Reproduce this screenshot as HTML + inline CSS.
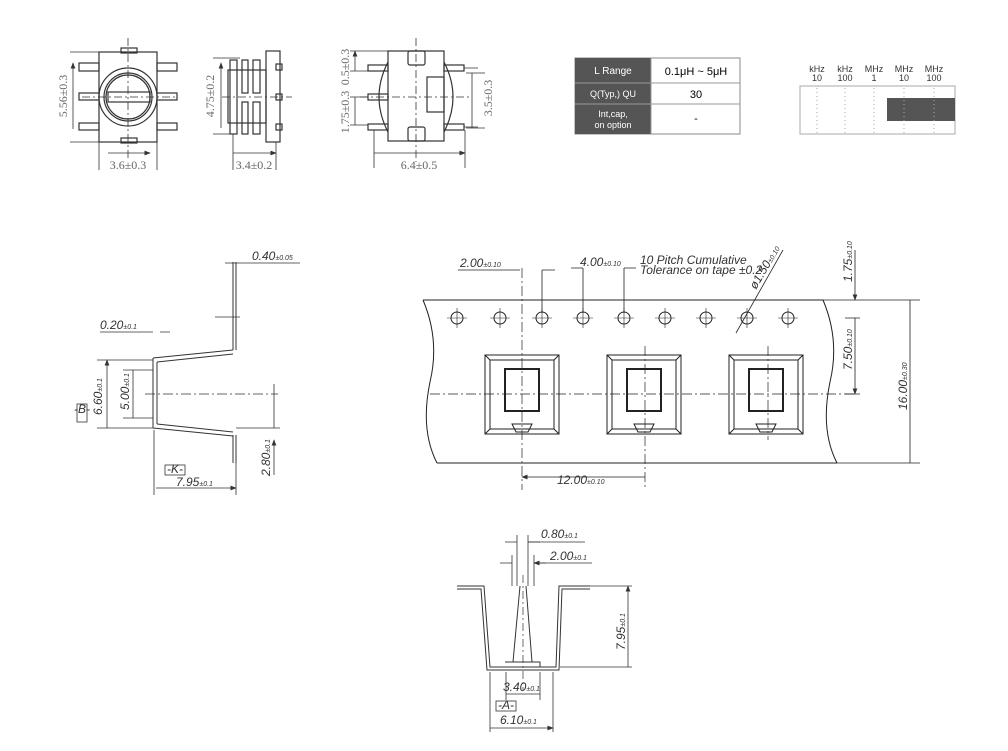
<!DOCTYPE html>
<html><head><meta charset="utf-8"><style>
body{margin:0;background:#fff;width:1008px;height:751px;overflow:hidden}
svg{display:block}
.t{font-family:"Liberation Serif",serif;fill:#666;font-size:12px}
.d{font-family:"Liberation Sans",sans-serif;font-style:italic;fill:#333;font-size:12px}
.s{font-size:7px}
</style></head><body>
<svg width="1008" height="751" viewBox="0 0 1008 751" xmlns="http://www.w3.org/2000/svg">
<defs><marker id="a" markerWidth="8" markerHeight="6" refX="7" refY="3" orient="auto-start-reverse"><path d="M0,0 L8,3 L0,6z" fill="#333"/></marker></defs>
<g stroke="#333" stroke-width="1.2" fill="none">
<rect x="99" y="52" width="58" height="90"/>
<circle cx="128" cy="97" r="29" fill="#fff"/>
<circle cx="128" cy="97" r="24"/><circle cx="128" cy="97" r="22"/>
<rect x="108" y="92" width="42" height="10"/>
<rect x="121" y="48" width="16" height="5"/><rect x="121" y="138" width="16" height="5"/>
<rect x="79" y="63" width="20" height="8"/><rect x="79" y="93" width="20" height="7"/><rect x="79" y="123" width="20" height="7"/>
<rect x="157" y="63" width="20" height="8"/><rect x="157" y="93" width="20" height="7"/><rect x="157" y="123" width="20" height="7"/>
<path d="M70 52H99M70 142H99M99 142V170M157 142V170" stroke-width="0.8"/>
<path d="M128 38V158M82 97H175" stroke-dasharray="8,3,2,3" stroke-width="0.8"/>
<path d="M73 63V129M108 153H150" marker-start="url(#a)" marker-end="url(#a)" stroke-width="0.8"/>
<rect x="230" y="60" width="7" height="74"/><rect x="242" y="60" width="6" height="33"/><rect x="253" y="60" width="7" height="33"/>
<rect x="242" y="102" width="6" height="32"/><rect x="253" y="102" width="7" height="32"/>
<rect x="228" y="70" width="38" height="53"/>
<rect x="266" y="51" width="14" height="91"/>
<rect x="276" y="64" width="6" height="6"/><rect x="276" y="94" width="6" height="6"/><rect x="276" y="124" width="6" height="6"/>
<path d="M213 58H240M213 134H230M233 134V170M276 142V170" stroke-width="0.8"/>
<path d="M222 97H292" stroke-dasharray="8,3,2,3" stroke-width="0.8"/>
<path d="M221 63V128M233 153H276" marker-start="url(#a)" marker-end="url(#a)" stroke-width="0.8"/>
<path d="M388 62 Q370 97 388 132M444 62 Q462 97 444 132"/>
<rect x="388" y="51" width="56" height="90" fill="#fff"/>
<rect x="408" y="51" width="17" height="14" rx="2"/><rect x="408" y="127" width="17" height="14" rx="2"/>
<rect x="427" y="77" width="17" height="35"/>
<rect x="368" y="65" width="20" height="6"/><rect x="368" y="94" width="20" height="6"/><rect x="368" y="124" width="20" height="6"/>
<rect x="444" y="65" width="20" height="6"/><rect x="444" y="124" width="20" height="6"/>
<path d="M464 68H478M464 127H478M350 51H388M350 71H368M350 97H368M350 125H368M466 73H485M466 128H485M374 130V168M465 130V168" stroke-width="0.8"/>
<path d="M416 38V162M360 97H470" stroke-dasharray="8,3,2,3" stroke-width="0.8"/>
<path d="M355 51V71M355 97V125M472 73V128M374 153H465" marker-start="url(#a)" marker-end="url(#a)" stroke-width="0.8"/>
</g>
<text class="t" transform="translate(67,96) rotate(-90)" text-anchor="middle">5.56±0.3</text>
<text class="t" x="128" y="169" text-anchor="middle">3.6±0.3</text>
<text class="t" transform="translate(214,96) rotate(-90)" text-anchor="middle">4.75±0.2</text>
<text class="t" x="254" y="169" text-anchor="middle">3.4±0.2</text>
<text class="t" transform="translate(349,67) rotate(-90)" text-anchor="middle">0.5±0.3</text>
<text class="t" transform="translate(349,112) rotate(-90)" text-anchor="middle">1.75±0.3</text>
<text class="t" transform="translate(492,98) rotate(-90)" text-anchor="middle">3.5±0.3</text>
<text class="t" x="419" y="169" text-anchor="middle">6.4±0.5</text>
<g font-family="Liberation Sans,sans-serif" font-size="10">
<rect x="575" y="58" width="165" height="76" fill="#fff" stroke="#888"/>
<rect x="575" y="58" width="76" height="76" fill="#555"/>
<path d="M575 83H740M575 104H740M651 58V134" stroke="#999"/>
<text x="613" y="74" fill="#fff" text-anchor="middle">L Range</text>
<text x="613" y="97" fill="#fff" text-anchor="middle" font-size="9">Q(Typ,) QU</text>
<text x="613" y="117" fill="#fff" text-anchor="middle" font-size="9">Int,cap,</text>
<text x="613" y="128" fill="#fff" text-anchor="middle" font-size="9">on option</text>
<text x="696" y="75" fill="#000" text-anchor="middle" font-size="11">0.1μH ~ 5μH</text>
<text x="696" y="98" fill="#000" text-anchor="middle" font-size="11">30</text>
<text x="696" y="122" fill="#000" text-anchor="middle" font-size="11">-</text>
<rect x="800" y="86" width="155" height="48" fill="#fff" stroke="#aaa"/>
<rect x="887" y="98" width="68" height="23" fill="#555"/>
<g stroke="#aaa" stroke-dasharray="1,3"><path d="M817 88V134M845 88V134M874 88V134M904 88V134M934 88V134"/></g>
<g fill="#333" font-size="9" text-anchor="middle">
<text x="817" y="72">kHz</text><text x="845" y="72">kHz</text><text x="874" y="72">MHz</text><text x="904" y="72">MHz</text><text x="934" y="72">MHz</text>
<text x="817" y="81">10</text><text x="845" y="81">100</text><text x="874" y="81">1</text><text x="904" y="81">10</text><text x="934" y="81">100</text>
</g></g>
<g stroke="#222" stroke-width="1" fill="none">
<path d="M423 300 Q440 340 430 382 Q420 430 437 463 M823 300 Q840 340 830 382 Q820 430 837 463 M423 300H823M437 463H837"/>
<path d="M823 300H920M837 463H920M845 318H860M845 394H860" stroke-width="0.8"/>
<g id="h"><circle cx="457" cy="318" r="6"/><path d="M447 318H467M457 308V328" stroke-width="0.6"/></g>
<use href="#h" x="43"/><use href="#h" x="85"/><use href="#h" x="126"/><use href="#h" x="167"/><use href="#h" x="208"/><use href="#h" x="249"/><use href="#h" x="290"/><use href="#h" x="331"/>
<g id="p"><rect x="485" y="355" width="74" height="79"/><rect x="490" y="360" width="64" height="69"/><path d="M485 355L490 360M559 355L554 360M485 434L490 429M559 434L554 429"/><rect x="505" y="369" width="34" height="42" stroke-width="2"/><path d="M512 424H532L528 432H516Z"/></g>
<use href="#p" x="122"/><use href="#p" x="244"/>
<path d="M430 394H855" stroke-dasharray="10,3,2,3" stroke-width="0.8"/>
<path d="M522 268V490M645 346V490M768 346V440" stroke-dasharray="10,3,2,3" stroke-width="0.7"/>
<path d="M458 270H520M542 270H555M542 270V313M583 268V313M624 268V313M571 268H583M624 268H636M736 333L783 250" stroke-width="0.8"/>
<path d="M522 477H645M910 300V463M855 318V394" marker-start="url(#a)" marker-end="url(#a)" stroke-width="0.8"/>
<path d="M855 250V300" marker-end="url(#a)" stroke-width="0.8"/>
</g>
<text class="d" x="460" y="267">2.00<tspan class="s">±0.10</tspan></text>
<text class="d" x="580" y="266">4.00<tspan class="s">±0.10</tspan></text>
<text class="d" x="640" y="264" font-size="7.5">10 Pitch Cumulative</text>
<text class="d" x="640" y="274" font-size="7.5">Tolerance on tape ±0.2</text>
<text class="d" transform="translate(756,290) rotate(-60)">ø1.50<tspan class="s">±0.10</tspan></text>
<text class="d" transform="translate(852,282) rotate(-90)">1.75<tspan class="s">±0.10</tspan></text>
<text class="d" transform="translate(852,370) rotate(-90)">7.50<tspan class="s">±0.10</tspan></text>
<text class="d" transform="translate(907,410) rotate(-90)">16.00<tspan class="s">±0.30</tspan></text>
<text class="d" x="557" y="484">12.00<tspan class="s">±0.10</tspan></text>
<g stroke="#333" stroke-width="1" fill="none">
<path d="M233 262V350M236 262V350M233 435V463M236 435V463"/>
<path d="M153 358V428M157 362V424M153 358L233 350M157 362L233 354M153 428L233 436M157 424L233 432" />
<path d="M215 317H240M97 360H153M123 370H153M97 428H153M123 418H153M236 428H280M154 430V495M236 440V495" stroke-width="0.8"/>
<path d="M145 394H278" stroke-dasharray="10,3,2,3" stroke-width="0.8"/>
<path d="M107 360V428M133 370V418M156 488H236" marker-start="url(#a)" marker-end="url(#a)" stroke-width="0.8"/>
<path d="M274 384V428M274 475V440" marker-end="url(#a)" stroke-width="0.8"/>
<path d="M100 332H153M160 332H170M225 263H300M245 263H250" stroke-width="0.8"/>
<rect x="77" y="404" width="10" height="18" stroke-width="0.8"/>
<rect x="165" y="465" width="20" height="10" stroke-width="0.8"/>
</g>
<text class="d" x="252" y="260">0.40<tspan class="s">±0.05</tspan></text>
<text class="d" x="100" y="329">0.20<tspan class="s">±0.1</tspan></text>
<text class="d" transform="translate(102,415) rotate(-90)">6.60<tspan class="s">±0.1</tspan></text>
<text class="d" transform="translate(129,410) rotate(-90)">5.00<tspan class="s">±0.1</tspan></text>
<text class="d" transform="translate(270,476) rotate(-90)">2.80<tspan class="s">±0.1</tspan></text>
<text class="d" x="176" y="486">7.95<tspan class="s">±0.1</tspan></text>
<text class="d" x="82" y="413" font-size="7" text-anchor="middle">-B-</text>
<text class="d" x="175" y="473" font-size="7" text-anchor="middle">-K-</text>
<g stroke="#333" stroke-width="1" fill="none">
<path d="M457 586H484L490 667H556L559 586H590M457 589H481L487 670H559L562 589H590"/>
<path d="M513 662L520 586M532 662L526 586M505 662H540V667"/>
<path d="M517 535V586M528 535V586M512 555V586M534 555V586M590 586H632M560 667H632M490 672V732M553 672V732M506 672V700M540 672V700" stroke-width="0.8"/>
<path d="M523 575V690" stroke-dasharray="8,3,2,3" stroke-width="0.7"/>
<path d="M628 586V667M506 694H540M490 728H553" marker-start="url(#a)" marker-end="url(#a)" stroke-width="0.8"/>
<path d="M505 542H517M540 542H528M500 563H512M546 563H534" marker-end="url(#a)" stroke-width="0.8"/>
<path d="M528 542H585M534 563H592" stroke-width="0.8"/>
<rect x="496" y="701" width="20" height="10" stroke-width="0.8"/>
</g>
<text class="d" x="541" y="538">0.80<tspan class="s">±0.1</tspan></text>
<text class="d" x="550" y="560">2.00<tspan class="s">±0.1</tspan></text>
<text class="d" transform="translate(625,650) rotate(-90)">7.95<tspan class="s">±0.1</tspan></text>
<text class="d" x="503" y="691">3.40<tspan class="s">±0.1</tspan></text>
<text class="d" x="500" y="724">6.10<tspan class="s">±0.1</tspan></text>
<text class="d" x="506" y="709" font-size="7" text-anchor="middle">-A-</text>
</svg>
</body></html>
